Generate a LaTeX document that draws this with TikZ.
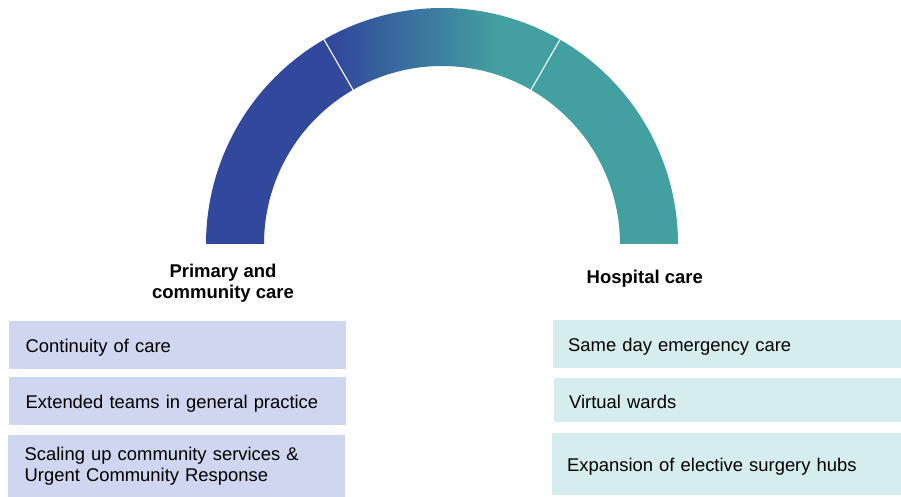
\documentclass[tikz,border=0pt]{standalone}
\usepackage{fontspec}
\setmainfont{Liberation Sans}
\usetikzlibrary{calc}
\definecolor{arcblue}{HTML}{31489C}
\definecolor{arcteal}{HTML}{43A0A0}
\definecolor{lavbox}{HTML}{CED6F0}
\definecolor{tealbox}{HTML}{D6EDEE}
% horizontal blend used on the middle ring segment
\pgfdeclarehorizontalshading{ringblend}{100bp}{color(0bp)=(arcblue); color(27bp)=(arcblue); color(62bp)=(arcteal); color(100bp)=(arcteal)}
\tikzset{
  every node/.style={font=\fontsize{18.4}{20.7}\selectfont, text=black},
  item/.style={rectangle, anchor=north west, inner xsep=16.5pt, inner ysep=0pt,
    align=left, minimum height=48pt},
  ritem/.style={item, inner xsep=15pt},
  oneline/.style={text height=14.5pt, text depth=0pt},
  heading/.style={font=\fontsize{18.5}{21}\selectfont\bfseries, align=center, inner sep=0pt},
  divider/.style={white, line width=1.1pt}
}
\begin{document}
\begin{tikzpicture}[x=1pt, y=1pt]
\useasboundingbox (0,0) rectangle (901,497);
\coordinate (c) at (442,253);
% ring segments
\fill[arcblue] ($(c)+(180:236)$) arc[start angle=180, end angle=120, radius=236]
  -- ($(c)+(120:178)$) arc[start angle=120, end angle=180, radius=178] -- cycle;
\shade[shading=ringblend] ($(c)+(120:236)$) arc[start angle=120, end angle=60, radius=236]
  -- ($(c)+(60:178)$) arc[start angle=60, end angle=120, radius=178] -- cycle;
\fill[arcteal] ($(c)+(60:236)$) arc[start angle=60, end angle=0, radius=236]
  -- ($(c)+(0:178)$) arc[start angle=0, end angle=60, radius=178] -- cycle;
\coordinate (d1i) at ($(c)+(120:177.5)$);
\coordinate (d1o) at ($(c)+(120:236.5)$);
\coordinate (d2i) at ($(c)+(60:177.5)$);
\coordinate (d2o) at ($(c)+(60:236.5)$);
\draw[divider] (d1i) -- (d1o);
\draw[divider] (d2i) -- (d2o);
% headings
\node[heading, anchor=center] (hprim) at (223,214) {Primary and\\community care};
\node[heading, anchor=base] (hhosp) at (644.8,213.7) {Hospital care};
% left column
\node[item, oneline, fill=lavbox, text width=304pt] (l1) at (9,176) {Continuity of care};
\node[item, oneline, fill=lavbox, text width=304pt] (l2) at (9,120) {Extended teams in general practice};
\node[item, fill=lavbox, text width=304pt, minimum height=62pt] (l3) at (8,62) {Scaling up community services \&\\Urgent Community Response};
% right column
\node[ritem, oneline, fill=tealbox, text width=318pt] (r1) at (553,177) {Same day emergency care};
\node[ritem, oneline, fill=tealbox, text width=317pt, minimum height=44pt, text height=17pt] (r2) at (554,119) {Virtual wards};
\node[ritem, oneline, fill=tealbox, text width=319pt, minimum height=62pt] (r3) at (552,64) {Expansion of elective surgery hubs};
\end{tikzpicture}
\end{document}
